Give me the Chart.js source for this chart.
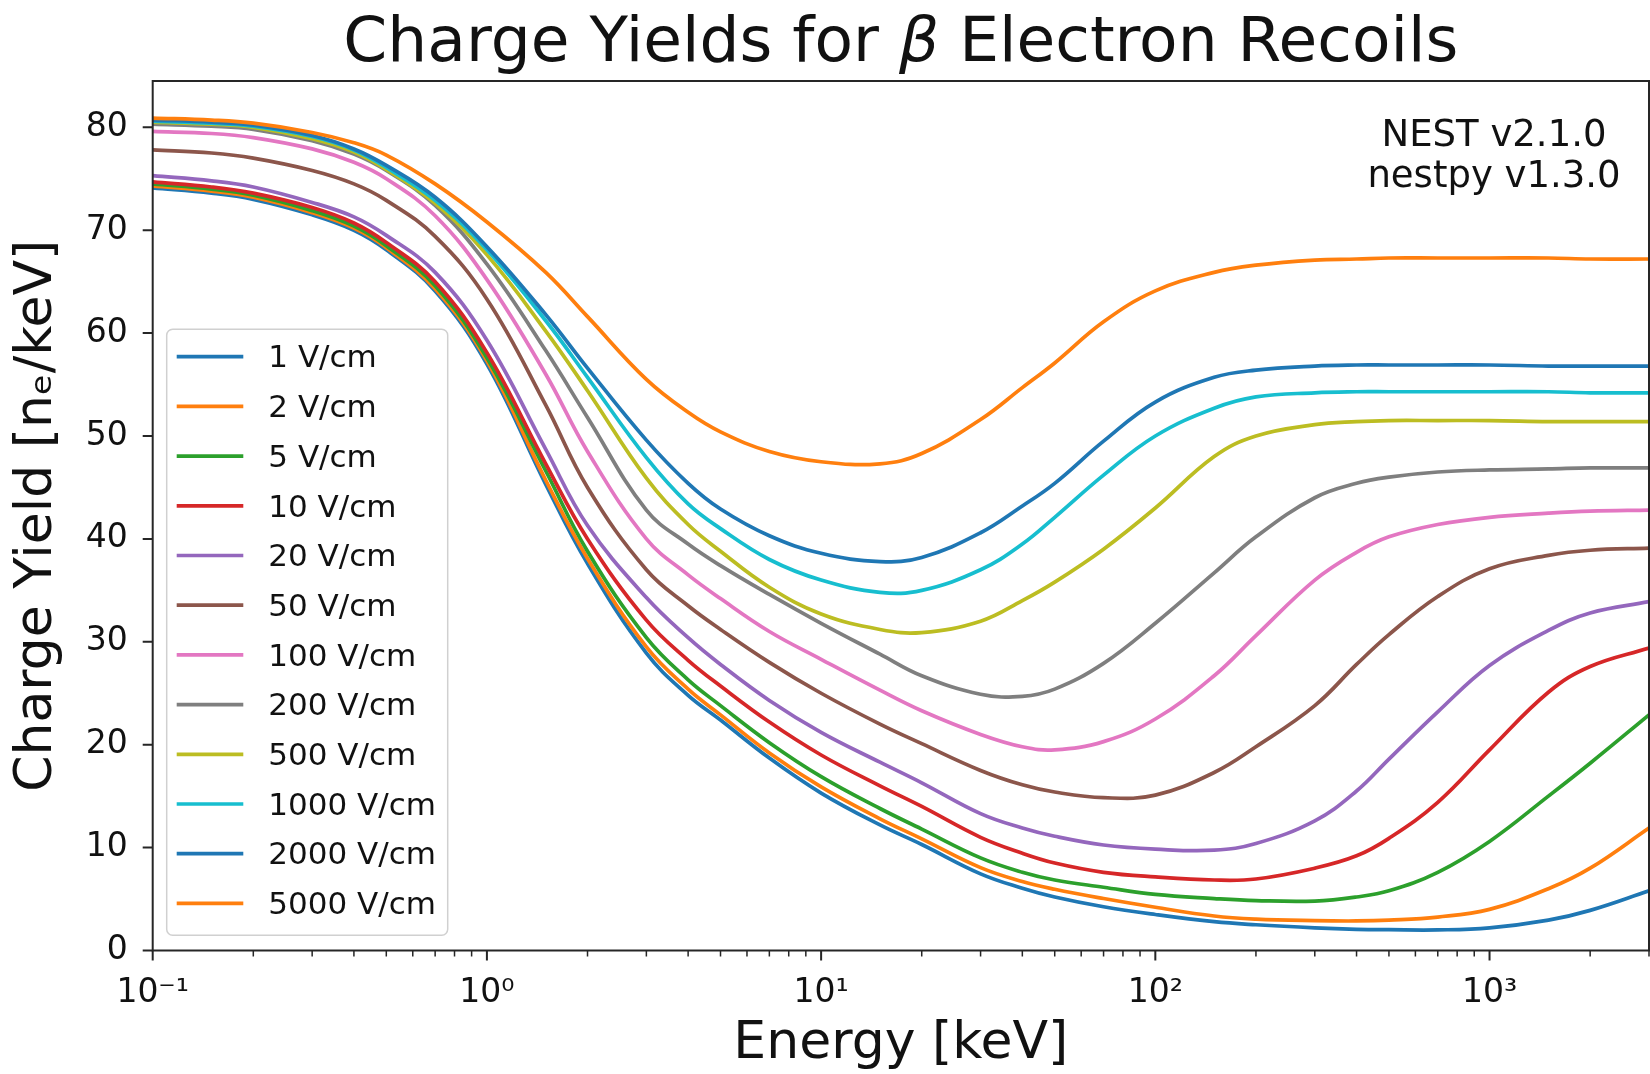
<!DOCTYPE html>
<html>
<head>
    <script src="https://cdn.jsdelivr.net/npm/chart.js"></script>
    <style>
        body { margin: 0; background: #ffffff; }
        #wrap { width: 1650px; height: 1074px; }
    </style>
</head>
<body>

    <div id="wrap"><canvas id="yieldChart"></canvas></div>

    <script>
        // energies in keV (x values shared by every curve)
        const energies = [0.1, 0.15, 0.2, 0.3, 0.4, 0.5, 0.7, 1, 1.5, 2, 3, 4, 5, 7, 10, 15, 20, 30, 40, 50, 70, 100, 150, 200, 300, 400, 500, 700, 1000, 1500, 2000, 3000];

        const fieldLabels = ['1 V/cm', '2 V/cm', '5 V/cm', '10 V/cm', '20 V/cm', '50 V/cm', '100 V/cm', '200 V/cm', '500 V/cm', '1000 V/cm', '2000 V/cm', '5000 V/cm'];
        const fieldColors = ['#1f77b4', '#ff7f0e', '#2ca02c', '#d62728', '#9467bd', '#8c564b', '#e377c2', '#7f7f7f', '#bcbd22', '#17becf', '#1f77b4', '#ff7f0e'];

        // charge yield [n_e/keV]
        const yield1 = [74.1, 73.6, 73.0, 71.5, 70.0, 68.1, 64.1, 57.0, 45.3, 37.6, 28.9, 24.8, 22.4, 18.7, 15.3, 12.2, 10.3, 7.45, 6.05, 5.2, 4.25, 3.5, 2.8, 2.5, 2.2, 2.06, 2.02, 2.0, 2.2, 2.95, 3.9, 5.8];
        const yield2 = [74.3, 73.8, 73.2, 71.7, 70.2, 68.3, 64.3, 57.3, 45.7, 38.1, 29.5, 25.4, 22.9, 19.2, 15.9, 12.8, 10.85, 8.05, 6.7, 5.95, 5.05, 4.2, 3.35, 3.05, 2.9, 2.87, 2.95, 3.25, 4.0, 6.0, 8.0, 11.9];
        const yield5 = [74.5, 74.0, 73.4, 71.9, 70.4, 68.5, 64.6, 57.6, 46.6, 38.8, 30.4, 26.3, 23.8, 20.2, 16.9, 13.8, 11.8, 9.0, 7.6, 6.85, 6.15, 5.45, 5.05, 4.85, 4.8, 5.2, 5.8, 7.6, 10.6, 15.0, 18.2, 22.9];
        const yield10 = [74.7, 74.2, 73.6, 72.2, 70.7, 68.8, 65.0, 58.1, 47.3, 40.0, 32.1, 28.2, 25.7, 22.2, 19.0, 16.0, 14.0, 11.0, 9.45, 8.5, 7.6, 7.15, 6.85, 6.95, 8.0, 9.2, 10.9, 14.4, 19.5, 25.1, 27.6, 29.4];
        const yield20 = [75.3, 74.8, 74.2, 72.7, 71.3, 69.5, 65.9, 59.3, 48.7, 41.3, 34.3, 30.4, 27.8, 24.3, 21.2, 18.3, 16.3, 13.3, 11.9, 11.1, 10.25, 9.85, 9.75, 10.4, 12.6, 15.5, 18.6, 23.2, 27.7, 31.1, 32.8, 33.9];
        const yield50 = [77.8, 77.5, 77.0, 75.8, 74.5, 72.9, 69.4, 63.3, 53.0, 45.0, 37.0, 33.5, 31.2, 28.0, 25.0, 22.0, 20.1, 17.5, 16.1, 15.4, 14.85, 15.1, 17.3, 19.8, 23.8, 27.8, 30.7, 34.4, 37.1, 38.4, 38.9, 39.1];
        const yield100 = [79.6, 79.4, 79.0, 77.9, 76.6, 75.0, 71.4, 65.2, 56.0, 48.5, 40.0, 36.5, 34.2, 31.0, 28.3, 25.3, 23.3, 21.0, 19.8, 19.5, 20.3, 22.5, 26.7, 30.6, 36.0, 38.7, 40.2, 41.4, 42.1, 42.5, 42.7, 42.8];
        const yield200 = [80.3, 80.1, 79.8, 78.7, 77.4, 75.8, 72.4, 66.7, 58.3, 51.8, 42.8, 39.5, 37.4, 34.6, 31.8, 28.8, 26.7, 24.9, 24.7, 25.4, 27.9, 31.8, 36.7, 40.2, 44.0, 45.4, 46.0, 46.5, 46.7, 46.8, 46.9, 46.9];
        const yield500 = [80.5, 80.3, 80.0, 78.9, 77.6, 75.9, 72.6, 67.6, 60.2, 54.4, 45.9, 41.4, 38.8, 35.3, 32.7, 31.2, 30.9, 32.0, 34.0, 35.8, 39.0, 43.0, 48.0, 50.0, 51.1, 51.4, 51.5, 51.5, 51.5, 51.4, 51.4, 51.4];
        const yield1000 = [80.6, 80.4, 80.1, 79.1, 77.8, 76.1, 72.9, 68.1, 61.2, 55.7, 47.9, 43.4, 41.0, 38.0, 36.0, 34.8, 35.0, 37.0, 39.5, 42.1, 46.2, 50.0, 52.7, 53.8, 54.2, 54.3, 54.3, 54.3, 54.3, 54.3, 54.2, 54.2];
        const yield2000 = [80.7, 80.5, 80.2, 79.2, 77.9, 76.3, 73.2, 68.4, 61.8, 56.6, 49.6, 45.4, 42.9, 40.3, 38.6, 37.8, 38.2, 40.6, 43.2, 45.4, 49.5, 53.3, 55.7, 56.4, 56.8, 56.9, 56.9, 56.9, 56.9, 56.8, 56.8, 56.8];
        const yield5000 = [80.9, 80.7, 80.4, 79.5, 78.5, 77.3, 74.5, 70.8, 65.9, 61.6, 55.5, 52.3, 50.4, 48.5, 47.5, 47.3, 48.3, 51.6, 54.7, 57.1, 61.1, 64.1, 65.9, 66.6, 67.1, 67.2, 67.3, 67.3, 67.3, 67.3, 67.2, 67.2];

        const allYields = [yield1, yield2, yield5, yield10, yield20, yield50, yield100, yield200, yield500, yield1000, yield2000, yield5000];

        const xTickValues = [0.1, 1, 10, 100, 1000];
        const xTickLabels = ['10\u207B\u00B9', '10\u2070', '10\u00B9', '10\u00B2', '10\u00B3'];
        const yTickValues = [0, 10, 20, 30, 40, 50, 60, 70, 80];
        const yTickLabels = ['0', '10', '20', '30', '40', '50', '60', '70', '80'];

        const FONT = "'DejaVu Sans', 'Liberation Sans', sans-serif";
        const INK = '#111111';

        // spines, ticks, legend box and the version note, drawn matplotlib style
        const mplDecor = {
            id: 'mplDecor',
            afterDatasetsDraw(chart) {
                const ctx = chart.ctx;
                const area = chart.chartArea;
                const xs = chart.scales.x;
                const ys = chart.scales.y;
                ctx.save();

                ctx.strokeStyle = '#262626';
                ctx.lineWidth = 2;
                ctx.strokeRect(area.left, area.top, area.right - area.left, area.bottom - area.top);

                // major ticks
                ctx.beginPath();
                xTickValues.forEach(v => {
                    const px = xs.getPixelForValue(v);
                    ctx.moveTo(px, area.bottom);
                    ctx.lineTo(px, area.bottom + 10);
                });
                yTickValues.forEach(v => {
                    const py = ys.getPixelForValue(v);
                    ctx.moveTo(area.left, py);
                    ctx.lineTo(area.left - 10, py);
                });
                ctx.stroke();

                // minor log ticks
                ctx.lineWidth = 1.5;
                ctx.beginPath();
                for (let k = -1; k <= 3; k++) {
                    for (let m = 2; m <= 9; m++) {
                        const v = m * Math.pow(10, k);
                        if (v > xs.max) continue;
                        const px = xs.getPixelForValue(v);
                        ctx.moveTo(px, area.bottom);
                        ctx.lineTo(px, area.bottom + 6);
                    }
                }
                ctx.stroke();

                // legend
                const bx = 166.7, by = 329.3, bw = 281, bh = 606, r = 6;
                ctx.beginPath();
                ctx.moveTo(bx + r, by);
                ctx.arcTo(bx + bw, by, bx + bw, by + bh, r);
                ctx.arcTo(bx + bw, by + bh, bx, by + bh, r);
                ctx.arcTo(bx, by + bh, bx, by, r);
                ctx.arcTo(bx, by, bx + bw, by, r);
                ctx.closePath();
                ctx.fillStyle = 'rgba(255,255,255,0.8)';
                ctx.fill();
                ctx.strokeStyle = '#d0d0d0';
                ctx.lineWidth = 1.5;
                ctx.stroke();

                ctx.font = '31px ' + FONT;
                ctx.textAlign = 'left';
                ctx.textBaseline = 'alphabetic';
                chart.data.datasets.forEach((ds, i) => {
                    const ly = 356.7 + i * 49.7;
                    ctx.strokeStyle = ds.borderColor;
                    ctx.lineWidth = 3.7;
                    ctx.beginPath();
                    ctx.moveTo(176.7, ly);
                    ctx.lineTo(243.3, ly);
                    ctx.stroke();
                    ctx.fillStyle = INK;
                    ctx.fillText(ds.label, 268.3, ly + 10.7);
                });

                // version note
                ctx.font = '37px ' + FONT;
                ctx.textAlign = 'center';
                ctx.fillStyle = INK;
                ctx.fillText('NEST v2.1.0', 1494, 145.7);
                ctx.fillText('nestpy v1.3.0', 1494, 187.3);

                ctx.restore();
            },
            afterDraw(chart) {
                // title with an italic beta
                const ctx = chart.ctx;
                const area = chart.chartArea;
                const parts = [
                    ['Charge Yields for ', 'normal'],
                    ['\u03B2', 'italic'],
                    [' Electron Recoils', 'normal']
                ];
                ctx.save();
                ctx.fillStyle = INK;
                ctx.textBaseline = 'alphabetic';
                ctx.textAlign = 'left';
                let total = 0;
                const widths = parts.map(p => {
                    ctx.font = p[1] + ' 63px ' + FONT;
                    const w = ctx.measureText(p[0]).width;
                    total += w;
                    return w;
                });
                let x = (area.left + area.right) / 2 - total / 2;
                parts.forEach((p, i) => {
                    ctx.font = p[1] + ' 63px ' + FONT;
                    ctx.fillText(p[0], x, 61);
                    x += widths[i];
                });
                ctx.restore();
            }
        };

        function drawChart() {
            const datasets = allYields.map((ys, i) => ({
                label: fieldLabels[i],
                data: energies.map((e, j) => ({ x: e, y: ys[j] })),
                borderColor: fieldColors[i],
                backgroundColor: fieldColors[i],
                borderWidth: 3.7,
                pointRadius: 0,
                fill: false,
                tension: 0.4,
                order: -i
            }));

            const config = {
                type: 'line',
                data: { datasets: datasets },
                options: {
                    responsive: true,
                    maintainAspectRatio: false,
                    animation: false,
                    layout: { padding: { top: 81, right: 1, left: 0, bottom: 0 } },
                    plugins: {
                        legend: { display: false },
                        title: { display: false },
                        tooltip: { enabled: false }
                    },
                    scales: {
                        x: {
                            type: 'logarithmic',
                            min: 0.1,
                            max: 3000,
                            grid: { display: false, drawTicks: false },
                            border: { display: false },
                            afterBuildTicks: scale => {
                                scale.ticks = xTickValues.map(v => ({ value: v }));
                            },
                            afterFit: scale => { scale.height = 123.5; },
                            ticks: {
                                autoSkip: false,
                                maxRotation: 0,
                                padding: 23,
                                color: INK,
                                font: { family: FONT, size: 33 },
                                callback: (value, index) => xTickLabels[index]
                            },
                            title: {
                                display: true,
                                text: 'Energy [keV]',
                                color: INK,
                                font: { family: FONT, size: 52 },
                                padding: { top: 0, bottom: -2 }
                            }
                        },
                        y: {
                            min: 0,
                            max: 84.5,
                            grid: { display: false, drawTicks: false },
                            border: { display: false },
                            afterBuildTicks: scale => {
                                scale.ticks = yTickValues.map(v => ({ value: v }));
                            },
                            afterFit: scale => { scale.width = 152.7; },
                            ticks: {
                                padding: 25,
                                color: INK,
                                font: { family: FONT, size: 33 },
                                callback: (value, index) => yTickLabels[index]
                            },
                            title: {
                                display: true,
                                text: 'Charge Yield [n\u2091/keV]',
                                color: INK,
                                font: { family: FONT, size: 52 },
                                padding: { top: 6, bottom: 0 }
                            }
                        }
                    }
                },
                plugins: [mplDecor]
            };

            new Chart(document.getElementById('yieldChart'), config);
        }

        drawChart();
    </script>

</body>
</html>
